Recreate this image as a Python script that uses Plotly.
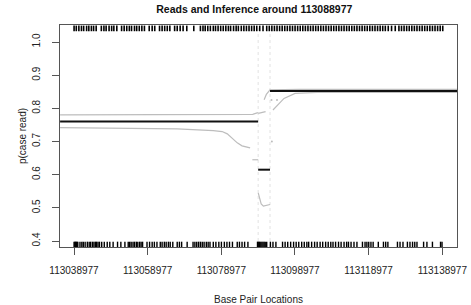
import plotly.graph_objects as go

BASE = 113000000  # positions below are kb offsets from this base

# Read positions (kb offsets) - case reads (top rug) and control reads (bottom rug)
case_reads_kb = [39.0, 39.6, 40.3, 41.0, 41.6, 42.4, 43.0, 43.7, 44.3, 45.0, 46.4, 47.1,
                 47.7, 48.5, 49.2, 49.8, 50.6, 51.9, 52.6, 53.3, 54.0, 54.6, 55.4, 56.0,
                 56.7, 57.4, 58.1, 59.4, 60.2, 60.9, 62.2, 62.9, 63.6, 64.3, 65.0, 66.3,
                 67.0, 67.8, 68.6, 69.6, 71.5,
                 73.3, 74.0, 74.6, 75.3, 76.0, 76.8, 77.4, 78.1, 78.8, 79.5, 80.2, 80.9,
                 81.5, 82.3, 83.0, 83.6, 84.4, 85.1, 85.8, 86.5, 87.2, 87.9, 88.6, 89.4,
                 90.3, 91.3, 92.0, 92.7, 93.4, 94.1, 94.8, 95.5, 96.2, 96.9, 97.6, 98.3,
                 99.0, 99.7, 100.4, 101.1, 101.8, 102.5, 103.2, 103.9, 104.6, 105.3, 106.0,
                 106.7, 107.4, 108.1, 108.8, 109.5, 110.2, 110.9, 111.6, 112.3, 113.0,
                 113.7, 114.4, 115.1, 115.8, 116.5, 117.2, 117.9, 118.6, 119.3, 120.0,
                 120.7, 121.4, 122.1, 122.8, 123.5, 124.3, 125.2, 126.2,
                 127.2, 127.9, 128.6, 129.3, 130.0, 130.7, 131.4, 132.1, 132.8, 133.5,
                 134.2, 134.9, 135.6, 136.3, 137.0, 137.7, 138.4, 139.1]

control_reads_kb = [39.0, 39.2, 39.4, 39.6, 39.8, 40.0, 40.6, 41.1, 41.5, 42.0, 42.6, 43.1,
                    43.5, 44.0, 44.4, 44.8, 45.1, 45.5, 45.9, 46.5, 47.2, 48.0, 48.7,
                    49.6, 50.8, 51.7, 52.8, 53.7, 54.1, 54.5, 55.0, 55.4, 55.9, 56.3, 56.8,
                    57.2, 57.6, 58.8, 59.5, 60.2, 60.8, 61.5, 62.4, 62.9, 63.5, 64.0, 64.6,
                    65.1, 65.8, 67.0, 67.6, 68.2, 69.7, 71.3, 71.8, 72.3, 72.8, 73.3, 73.8,
                    74.3, 74.9, 75.4, 75.9, 76.8, 77.5, 78.3, 79.0, 79.8, 80.5, 81.2, 82.0,
                    83.3, 83.9, 84.6, 85.3, 86.2, 88.8, 89.0, 89.2, 89.4, 89.7, 90.0, 90.3,
                    90.6, 90.9, 91.3, 92.3, 93.0, 93.8, 95.6, 96.3, 97.0, 97.8, 98.6, 99.3,
                    100.0, 100.8, 101.5, 102.2, 102.7, 103.5, 104.3, 105.0, 105.8, 106.5,
                    107.3, 108.0, 108.7, 109.3, 110.0, 110.8, 111.5, 112.3, 113.0, 113.5,
                    114.2, 115.0, 115.8, 117.3, 118.0, 118.5, 119.0, 119.6, 120.2, 121.6,
                    123.0, 123.6, 124.2, 126.8, 127.5, 128.3, 129.5, 130.2, 130.9, 131.5,
                    132.1, 133.9, 134.8, 136.3, 138.5, 138.9]

case_rug_y = 1.041
control_rug_y = 0.3895

# Inferred step estimate (black)
step_segments_kb = [(35.2, 88.977), (88.977, 92.2), (92.2, 143.0)]
step_values = [0.760, 0.615, 0.852]

# Confidence bands (gray)
upper_left_kb = [35.2, 75.0, 85.0, 87.5, 88.9]
upper_left_y = [0.780, 0.780, 0.781, 0.782, 0.787]
upper_mid_kb = [89.0, 90.0, 91.0]
upper_mid_y = [0.785, 0.788, 0.790]
upper_right_kb = [90.6, 91.2, 92.2, 100.0, 143.0]
upper_right_y = [0.826, 0.842, 0.856, 0.857, 0.857]

lower_left_kb = [35.2, 67.0, 76.8, 79.2, 80.6, 81.9, 83.3, 84.6, 86.3, 86.8]
lower_left_y = [0.742, 0.738, 0.733, 0.730, 0.723, 0.709, 0.696, 0.687, 0.682, 0.681]
lower_seg_kb = [87.4, 89.0]
lower_seg_y = [0.645, 0.645]
lower_mid_kb = [89.0, 89.4, 89.8, 90.4, 92.2]
lower_mid_y = [0.545, 0.525, 0.512, 0.505, 0.510]
lower_right_kb = [93.0, 94.4, 96.0, 99.0, 105.0, 143.0]
lower_right_y = [0.795, 0.812, 0.830, 0.845, 0.848, 0.848]
scatter_kb = [92.7, 92.6, 94.1]
scatter_y = [0.700, 0.825, 0.825]

center_kb = 88.977
boundary_kb = 92.2

x_tick_vals = [113038977, 113058977, 113078977, 113098977, 113118977, 113138977]
x_tick_text = [str(v) for v in x_tick_vals]
y_tick_vals = [0.4, 0.5, 0.6, 0.7, 0.8, 0.9, 1.0]
y_tick_text = ["0.4", "0.5", "0.6", "0.7", "0.8", "0.9", "1.0"]


def bp(kbs):
    return [BASE + k * 1000 for k in kbs]


GRAY = "#bdbdbd"
fig = go.Figure()

for xv in [center_kb, boundary_kb]:
    fig.add_vline(x=BASE + xv * 1000, layer="below",
                  line=dict(color="#e2e2e2", width=1, dash="dot"))

for xs, ys in [(upper_left_kb, upper_left_y), (upper_mid_kb, upper_mid_y),
               (upper_right_kb, upper_right_y), (lower_left_kb, lower_left_y),
               (lower_seg_kb, lower_seg_y), (lower_mid_kb, lower_mid_y),
               (lower_right_kb, lower_right_y)]:
    fig.add_trace(go.Scatter(x=bp(xs), y=ys, mode="lines",
                             line=dict(color=GRAY, width=1.2), hoverinfo="skip"))

fig.add_trace(go.Scatter(x=bp(scatter_kb), y=scatter_y, mode="markers",
                         marker=dict(color=GRAY, size=2), hoverinfo="skip"))

for (a, b), v in zip(step_segments_kb, step_values):
    fig.add_trace(go.Scatter(x=bp([a, b]), y=[v, v], mode="lines",
                             line=dict(color="#111111", width=2)))

fig.add_trace(go.Scatter(x=bp(case_reads_kb), y=[case_rug_y] * len(case_reads_kb),
                         mode="markers",
                         marker=dict(symbol="line-ns", size=4, color="black",
                                     line=dict(color="black", width=1.6))))
fig.add_trace(go.Scatter(x=bp(control_reads_kb), y=[control_rug_y] * len(control_reads_kb),
                         mode="markers",
                         marker=dict(symbol="line-ns", size=4, color="black",
                                     line=dict(color="black", width=1.4))))

FONT = "Liberation Sans, Arial, Helvetica, sans-serif"
fig.update_layout(
    width=471, height=305,
    margin=dict(l=60, r=14, t=25, b=58, autoexpand=False),
    paper_bgcolor="white", plot_bgcolor="white",
    showlegend=False,
    font=dict(family=FONT, size=10, color="#222"),
    title=dict(text="<b>Reads and Inference around 113088977</b>",
               x=0.54, xanchor="center", y=0.97, yanchor="middle",
               automargin=False,
               font=dict(size=10.5, family=FONT, color="#111")),
    xaxis=dict(range=[113035176, 113142968], tickvals=x_tick_vals, ticktext=x_tick_text,
               ticks="outside", ticklen=7, tickcolor="#555", showgrid=False,
               zeroline=False, showline=True, linecolor="#555", mirror=True,
               automargin=False, ticklabelstandoff=7,
               title=dict(text="Base Pair Locations", standoff=22,
                          font=dict(size=10, family=FONT)),
               tickfont=dict(size=10, family=FONT, color="#222")),
    yaxis=dict(range=[0.3819, 1.0513], tickvals=y_tick_vals, ticktext=y_tick_text,
               ticks="outside", ticklen=7, tickcolor="#555", showgrid=False,
               zeroline=False, showline=True, linecolor="#555", mirror=True,
               tickangle=-90, automargin=False, ticklabelstandoff=8,
               title=dict(text="p(case read)", standoff=2,
                          font=dict(size=10, family=FONT)),
               tickfont=dict(size=10, family=FONT, color="#222")),
)

fig.write_html("out.html", config={"displayModeBar": False},
               post_script="document.body.style.margin='0';document.body.style.padding='0';")
